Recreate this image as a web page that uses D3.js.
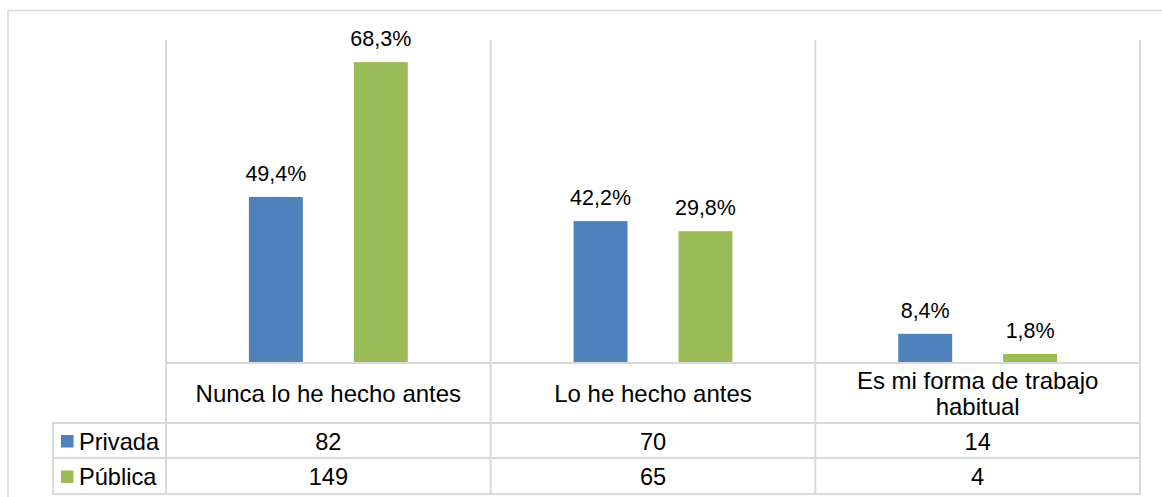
<!DOCTYPE html>
<html>
<head>
<meta charset="utf-8">
<script src="https://cdn.jsdelivr.net/npm/d3@7"></script>
<style>
  html, body { margin: 0; padding: 0; background: #fff; }
  svg { display: block; font-family: "Liberation Sans", Arial, sans-serif; }
</style>
</head>
<body>
<svg id="chart" width="1162" height="497"></svg>
<script>
// Survey answers by school type
const categories = ["Nunca lo he hecho antes", "Lo he hecho antes", "Es mi forma de trabajo habitual"];
const seriesNames = ["Privada", "Pública"];
const privadaCounts = [82, 70, 14];
const publicaCounts = [149, 65, 4];
const privadaPctLabels = ["49,4%", "42,2%", "8,4%"];
const publicaPctLabels = ["68,3%", "29,8%", "1,8%"];

const colors = { "Privada": "#4F81BD", "Pública": "#9BBB59" };
const gridColor = "#d9d9d9";

const series = [
  { name: "Privada", counts: privadaCounts, labels: privadaPctLabels },
  { name: "Pública", counts: publicaCounts, labels: publicaPctLabels }
];

const svg = d3.select("#chart");

// layout
const plotLeft = 166, plotRight = 1140, plotTop = 40, baseY = 362;
const headerBottom = 423, row1Bottom = 458, row2Bottom = 494;
const legendLeft = 53;

// outer frame
svg.append("rect")
  .attr("x", 8).attr("y", 10.5)
  .attr("width", 1180).attr("height", 500)
  .attr("fill", "none").attr("stroke", gridColor).attr("stroke-width", 1.5);

const x = d3.scaleBand().domain(categories).range([plotLeft, plotRight]).padding(0);
const xInner = d3.scaleBand().domain(seriesNames).range([0, x.bandwidth()])
  .paddingInner(0.486).paddingOuter(0.79);
const y = d3.scaleLinear().domain([0, 160]).range([baseY, plotTop]);

// table grid lines
const g = svg.append("g");
const boundaries = [plotLeft].concat(categories.map(c => x(c) + x.bandwidth()));
boundaries.forEach(bx => {
  g.append("line")
    .attr("x1", bx).attr("x2", bx)
    .attr("y1", plotTop).attr("y2", row2Bottom + 1)
    .attr("stroke", gridColor).attr("stroke-width", 2);
});
g.append("line").attr("x1", legendLeft).attr("x2", legendLeft)
  .attr("y1", headerBottom).attr("y2", row2Bottom + 1)
  .attr("stroke", gridColor).attr("stroke-width", 2);
g.append("line").attr("x1", plotLeft).attr("x2", plotRight + 1)
  .attr("y1", baseY + 1).attr("y2", baseY + 1)
  .attr("stroke", gridColor).attr("stroke-width", 2);
[headerBottom, row1Bottom, row2Bottom].forEach(ry => {
  g.append("line").attr("x1", legendLeft - 1).attr("x2", plotRight + 1)
    .attr("y1", ry).attr("y2", ry)
    .attr("stroke", gridColor).attr("stroke-width", 2);
});

// bars and value labels
series.forEach(s => {
  const sg = svg.append("g");
  const rowsData = categories.map((c, i) => ({ c, v: s.counts[i], label: s.labels[i] }));
  sg.selectAll("rect")
    .data(rowsData)
    .join("rect")
    .attr("x", d => x(d.c) + xInner(s.name))
    .attr("width", xInner.bandwidth())
    .attr("y", d => y(d.v))
    .attr("height", d => y(0) - y(d.v))
    .attr("fill", colors[s.name]);
  sg.selectAll("text")
    .data(rowsData)
    .join("text")
    .attr("x", d => x(d.c) + xInner(s.name) + xInner.bandwidth() / 2)
    .attr("y", d => y(d.v) - 16)
    .attr("text-anchor", "middle")
    .attr("font-size", 21.5)
    .attr("fill", "#000")
    .text(d => d.label);
});

// category labels with wrapping
const catFont = 24;
const tableFont = 23.6;
categories.forEach(c => {
  const words = c.split(" ");
  const lines = [];
  let cur = "";
  const probe = svg.append("text").attr("font-size", catFont);
  words.forEach(w => {
    const test = cur ? cur + " " + w : w;
    probe.text(test);
    if (probe.node().getComputedTextLength() > 295 && cur) {
      lines.push(cur);
      cur = w;
    } else {
      cur = test;
    }
  });
  lines.push(cur);
  probe.remove();
  const lh = 26.5;
  const cy = (baseY + headerBottom) / 2 + 1;
  const t = svg.append("text")
    .attr("text-anchor", "middle")
    .attr("font-size", catFont)
    .attr("fill", "#000");
  lines.forEach((ln, i) => {
    t.append("tspan")
      .attr("x", x(c) + x.bandwidth() / 2)
      .attr("y", cy + catFont * 0.35 + (i - (lines.length - 1) / 2) * lh)
      .text(ln);
  });
});

// data table rows with legend keys
const rows = [
  { name: "Privada", values: privadaCounts, top: headerBottom, bottom: row1Bottom },
  { name: "Pública", values: publicaCounts, top: row1Bottom, bottom: row2Bottom }
];
rows.forEach(r => {
  const cy = (r.top + r.bottom) / 2 + 1;
  svg.append("rect")
    .attr("x", 61).attr("y", cy - 6.5)
    .attr("width", 12.5).attr("height", 12.5)
    .attr("fill", colors[r.name]);
  svg.append("text")
    .attr("x", 79).attr("y", cy + tableFont * 0.35)
    .attr("font-size", tableFont).attr("fill", "#000")
    .text(r.name);
  svg.append("g").selectAll("text")
    .data(categories.map((c, i) => ({ c, v: r.values[i] })))
    .join("text")
    .attr("x", d => x(d.c) + x.bandwidth() / 2)
    .attr("y", cy + tableFont * 0.35)
    .attr("text-anchor", "middle")
    .attr("font-size", tableFont).attr("fill", "#000")
    .text(d => d.v);
});
</script>
</body>
</html>
